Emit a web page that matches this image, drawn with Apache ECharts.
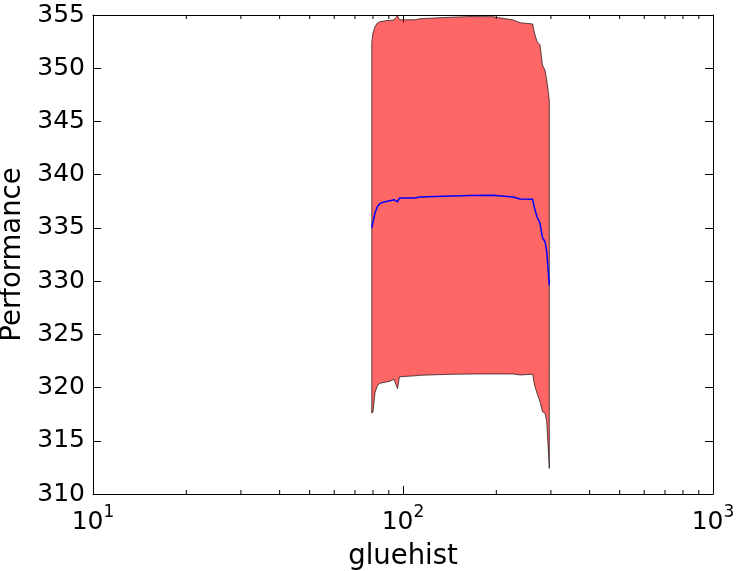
<!DOCTYPE html>
<html>
<head>
<meta charset="utf-8">
<script src="https://cdn.jsdelivr.net/npm/echarts@6/dist/echarts.min.js"></script>
<style>html,body{margin:0;padding:0;background:#fff}#c{width:737px;height:571px}</style>
</head>
<body>
<div id="c"></div>
<script>
// gluehist values (log scale)
const xs    = [79.3, 80.0, 81.2, 82.7, 84.3, 87.5, 90.8, 93.5, 96.0, 97.4, 101.5, 109.3, 113.4, 126.9, 145, 164.5, 195.1, 226.8, 238.5, 262, 265.6, 270.6, 276.7, 281.8, 287.2, 290.8, 296.5];
const meanV = [335.0, 335.1, 336.4, 337.0, 337.3, 337.45, 337.55, 337.65, 337.45, 337.8, 337.8, 337.8, 337.9, 337.95, 338.0, 338.05, 338.06, 337.9, 337.72, 337.68, 336.84, 336.05, 335.43, 334.08, 333.7, 332.76, 329.6];
const upperV = [352.4, 353.3, 353.9, 354.25, 354.37, 354.45, 354.5, 354.53, 354.95, 354.55, 354.55, 354.55, 354.65, 354.72, 354.8, 354.85, 354.84, 354.53, 354.28, 354.16, 353.3, 352.5, 352.2, 350.3, 349.8, 348.9, 347.0];
const lowerV = [317.6, 317.7, 319.5, 320.2, 320.4, 320.5, 320.6, 320.77, 319.9, 321.0, 321.05, 321.1, 321.15, 321.2, 321.25, 321.27, 321.28, 321.27, 321.18, 321.25, 320.24, 319.46, 318.67, 317.73, 317.58, 316.8, 312.4];
const xMinorTicks = [20, 30, 40, 50, 60, 70, 80, 90, 200, 300, 400, 500, 600, 700, 800, 900];
const yTicks = [310, 315, 320, 325, 330, 335, 340, 345, 350, 355];

const FONT = 'DejaVu Sans';
const chart = echarts.init(document.getElementById('c'), null, {renderer: 'canvas'});

const xLabelFmt = v => {
  const e = Math.round(Math.log10(v));
  return '{b|10}{s|' + e + '}';
};

const axisCommon = {
  axisLine: {show: true, onZero: false, lineStyle: {color: '#000', width: 1}},
  splitLine: {show: false}
};

const option = {
  animation: false,
  backgroundColor: '#fff',
  grid: {left: 93, right: 24, top: 15, bottom: 77, containLabel: false, outerBoundsMode: 'none'},
  xAxis: [
    Object.assign({
      type: 'log', logBase: 10, min: 10, max: 1000, position: 'bottom',
      name: 'gluehist', nameLocation: 'middle', nameGap: 49,
      nameTextStyle: {fontFamily: FONT, fontSize: 27.5, color: '#000'},
      axisTick: {show: true, inside: true, length: 8, lineStyle: {color: '#000'}},
      axisLabel: {
        show: true, margin: 10, formatter: xLabelFmt, color: '#000',
        rich: {
          b: {fontFamily: FONT, fontSize: 25, color: '#000'},
          s: {fontFamily: FONT, fontSize: 17, color: '#000', padding: [0, 0, 20, 0]}
        }
      }
    }, axisCommon),
    Object.assign({
      type: 'log', logBase: 10, min: 10, max: 1000, position: 'top',
      axisTick: {show: true, inside: true, length: 8, lineStyle: {color: '#000'}},
      axisLabel: {show: false}
    }, axisCommon)
  ],
  yAxis: [
    Object.assign({
      type: 'value', min: 310, max: 355, interval: 5, position: 'left',
      name: 'Performance', nameLocation: 'middle', nameGap: 63, nameRotate: 90,
      nameTextStyle: {fontFamily: FONT, fontSize: 27.5, color: '#000'},
      axisTick: {show: true, inside: true, length: 8, lineStyle: {color: '#000'}},
      axisLabel: {show: true, margin: 8, fontFamily: FONT, fontSize: 25, color: '#000',
        formatter: v => yTicks.indexOf(v) >= 0 ? String(v) : ''}
    }, axisCommon),
    Object.assign({
      type: 'value', min: 310, max: 355, interval: 5, position: 'right',
      axisTick: {show: true, inside: true, length: 8, lineStyle: {color: '#000'}},
      axisLabel: {show: false}
    }, axisCommon)
  ],
  series: [
    {
      type: 'custom', name: 'band', xAxisIndex: 0, yAxisIndex: 0, clip: true, z: 2,
      data: [[xs[0], upperV[0]]],
      encode: {x: 0, y: 1},
      renderItem: (params, api) => {
        const pts = [];
        for (let i = 0; i < xs.length; i++) pts.push(api.coord([xs[i], upperV[i]]));
        for (let i = xs.length - 1; i >= 0; i--) pts.push(api.coord([xs[i], lowerV[i]]));
        return {
          type: 'polygon', shape: {points: pts},
          style: {fill: 'rgba(255,0,0,0.6)', stroke: 'rgba(0,0,0,0.65)', lineWidth: 1}
        };
      }
    },
    {
      type: 'line', name: 'mean', xAxisIndex: 0, yAxisIndex: 0, z: 3,
      data: xs.map((x, i) => [x, meanV[i]]),
      symbol: 'none', showSymbol: false,
      lineStyle: {color: '#0000ff', width: 1.5}
    },
    {
      type: 'custom', name: 'minorTicks', xAxisIndex: 0, yAxisIndex: 0, clip: false, z: 5,
      data: xMinorTicks.map(v => [v, 310]),
      encode: {x: 0, y: 1},
      renderItem: (params, api) => {
        const p = api.coord([api.value(0), 310]);
        const top = params.coordSys.y;
        const bottom = top + params.coordSys.height;
        const st = {stroke: '#000', lineWidth: 1};
        return {
          type: 'group', children: [
            {type: 'line', shape: {x1: p[0], y1: bottom, x2: p[0], y2: bottom - 4}, style: st},
            {type: 'line', shape: {x1: p[0], y1: top, x2: p[0], y2: top + 4}, style: st}
          ]
        };
      }
    }
  ]
};
chart.setOption(option);
</script>
</body>
</html>
